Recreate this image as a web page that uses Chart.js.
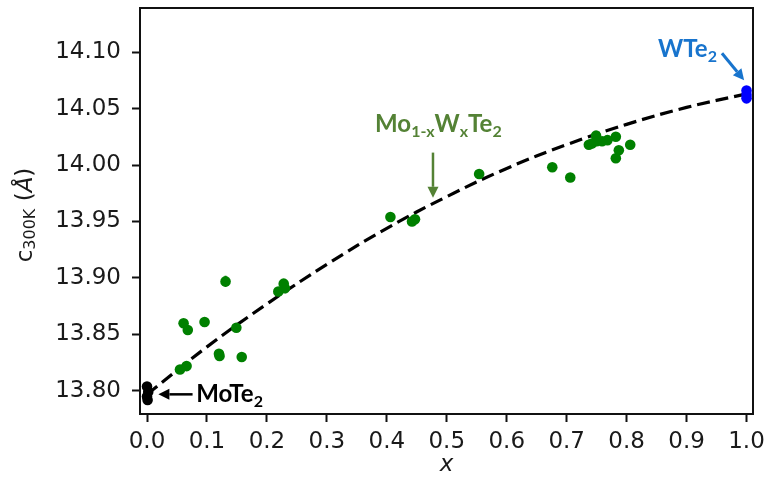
<!DOCTYPE html>
<html><head><meta charset="utf-8">
<script src="https://cdn.jsdelivr.net/npm/chart.js@4/dist/chart.umd.min.js"></script>
<style>html,body{margin:0;padding:0;background:#fff}#wrap{width:769px;height:488px}</style>
</head><body><div id="wrap"><canvas id="c" width="769" height="488"></canvas></div>
<script>
// ---- data ----
const xTicks = [0.0, 0.1, 0.2, 0.3, 0.4, 0.5, 0.6, 0.7, 0.8, 0.9, 1.0];
const yTicks = [13.80, 13.85, 13.90, 13.95, 14.00, 14.05, 14.10];

// Mo(1-x)W(x)Te2 alloys (green)
const mixX = [0.055, 0.066, 0.061, 0.068, 0.096, 0.120, 0.121, 0.131, 0.149, 0.158,
              0.219, 0.228, 0.230, 0.406, 0.442, 0.447, 0.554, 0.676, 0.706,
              0.737, 0.742, 0.749, 0.750, 0.759, 0.768, 0.782, 0.787, 0.782, 0.806];
const mixY = [13.819, 13.822, 13.860, 13.854, 13.861, 13.833, 13.831, 13.897, 13.856, 13.830,
              13.888, 13.895, 13.891, 13.954, 13.950, 13.952, 13.992, 13.998, 13.989,
              14.018, 14.019, 14.026, 14.021, 14.021, 14.022, 14.025, 14.013, 14.006, 14.018];
// MoTe2 (black)
const moX = [0.0, 0.002, 0.0, 0.001];
const moY = [13.804, 13.799, 13.795, 13.792];
// WTe2 (blue)
const wX = [1.0, 1.0, 1.0];
const wY = [14.066, 14.062, 14.059];
// dashed fit curve
const fitX = [0.0, 0.1, 0.2, 0.3, 0.4, 0.5, 0.6, 0.7, 0.8, 0.9, 1.0];
const fitY = [13.797, 13.839, 13.877, 13.912, 13.944, 13.972, 13.997, 14.018, 14.036, 14.051, 14.063];
// error bars
const errX = [0.131, 0.782];
const errY = [13.897, 14.006];
const errSize = [0.005, 0.004];

const pts = (xs, ys) => xs.map((x, i) => ({x: x, y: ys[i]}));

const TXT = '#1a1a1a';
const GREEN_TXT = '#548235';
const BLUE_TXT = '#1874CD';

function drawRich(ctx, parts, x, y, align) {
  let w = 0;
  parts.forEach(p => { ctx.font = p.font; p.w = ctx.measureText(p.t).width; w += p.w; });
  let cx = align === 'center' ? x - w / 2 : x;
  ctx.textAlign = 'left';
  ctx.textBaseline = 'alphabetic';
  parts.forEach(p => {
    ctx.font = p.font; ctx.fillStyle = p.color;
    ctx.fillText(p.t, cx, y + (p.dy || 0));
    cx += p.w;
  });
}
function arrow(ctx, x1, y1, x2, y2, color, lw, hl, hw) {
  const a = Math.atan2(y2 - y1, x2 - x1);
  const bx = x2 - hl * Math.cos(a), by = y2 - hl * Math.sin(a);
  ctx.save();
  ctx.strokeStyle = color; ctx.fillStyle = color; ctx.lineWidth = lw;
  ctx.beginPath(); ctx.moveTo(x1, y1); ctx.lineTo(bx, by); ctx.stroke();
  ctx.beginPath();
  ctx.moveTo(x2, y2);
  ctx.lineTo(bx + hw / 2 * Math.sin(a), by - hw / 2 * Math.cos(a));
  ctx.lineTo(bx - hw / 2 * Math.sin(a), by + hw / 2 * Math.cos(a));
  ctx.closePath(); ctx.fill();
  ctx.restore();
}

const deco = {
  id: 'deco',
  beforeDatasetsDraw(chart) {
    const {ctx, scales: {x, y}} = chart;
    ctx.save();
    ctx.strokeStyle = '#008000'; ctx.lineWidth = 2;
    errX.forEach((ex, i) => {
      const px = x.getPixelForValue(ex);
      ctx.beginPath();
      ctx.moveTo(px, y.getPixelForValue(errY[i] - errSize[i]));
      ctx.lineTo(px, y.getPixelForValue(errY[i] + errSize[i]));
      ctx.stroke();
    });
    ctx.restore();
  },
  afterDraw(chart) {
    const {ctx, chartArea: a, scales: {x, y}} = chart;
    ctx.save();
    // frame
    ctx.strokeStyle = '#111'; ctx.lineWidth = 2;
    ctx.strokeRect(a.left, a.top, a.right - a.left, a.bottom - a.top);

    const B = 'bold 24px Lato';
    const Bs = 'bold 16px Lato';
    // MoTe2
    arrow(ctx, x.getPixelForValue(0.076), y.getPixelForValue(13.797),
          x.getPixelForValue(0.019), y.getPixelForValue(13.797), '#000', 2.5, 11, 11);
    drawRich(ctx, [{t: 'MoTe', font: B, color: '#000'}, {t: '2', font: Bs, color: '#000', dy: 5}],
             x.getPixelForValue(0.082), y.getPixelForValue(13.790), 'left');
    // Mo1-xWxTe2
    drawRich(ctx, [
      {t: 'Mo', font: B, color: GREEN_TXT}, {t: '1-x', font: Bs, color: GREEN_TXT, dy: 5},
      {t: 'W', font: B, color: GREEN_TXT}, {t: 'x', font: Bs, color: GREEN_TXT, dy: 5},
      {t: 'Te', font: B, color: GREEN_TXT}, {t: '2', font: Bs, color: GREEN_TXT, dy: 5}
    ], x.getPixelForValue(0.486), y.getPixelForValue(14.029), 'center');
    arrow(ctx, x.getPixelForValue(0.477), y.getPixelForValue(14.011),
          x.getPixelForValue(0.477), y.getPixelForValue(13.971), GREEN_TXT, 2.5, 11, 11);
    // WTe2
    drawRich(ctx, [{t: 'WTe', font: B, color: BLUE_TXT}, {t: '2', font: Bs, color: BLUE_TXT, dy: 5}],
             x.getPixelForValue(0.8525), y.getPixelForValue(14.096), 'left');
    arrow(ctx, x.getPixelForValue(0.959), y.getPixelForValue(14.099),
          x.getPixelForValue(0.996), y.getPixelForValue(14.075), BLUE_TXT, 3, 11, 11);

    // x axis title
    ctx.fillStyle = TXT;
    ctx.font = 'italic 23px "DejaVu Sans"';
    ctx.textAlign = 'center'; ctx.textBaseline = 'alphabetic';
    ctx.fillText('x', (a.left + a.right) / 2, 471);

    // y axis title
    ctx.translate(32, (a.top + a.bottom) / 2 + 4);
    ctx.rotate(-Math.PI / 2);
    drawRich(ctx, [
      {t: 'c', font: '23px "DejaVu Sans"', color: TXT},
      {t: '300K', font: '16px "DejaVu Sans"', color: TXT, dy: 3},
      {t: ' (', font: '23px "DejaVu Sans"', color: TXT},
      {t: 'Å', font: 'italic 23px "DejaVu Sans"', color: TXT},
      {t: ')', font: '23px "DejaVu Sans"', color: TXT}
    ], 0, 0, 'center');
    ctx.restore();
  }
};

const tickFont = {family: 'DejaVu Sans', size: 23};

new Chart(document.getElementById('c'), {
  type: 'scatter',
  data: {
    datasets: [
      {label: 'MoTe2', data: pts(moX, moY), backgroundColor: '#000', borderColor: '#000', pointRadius: 5.3, borderWidth: 0},
      {label: 'WTe2', data: pts(wX, wY), backgroundColor: '#0000ff', borderColor: '#0000ff', pointRadius: 5.3, borderWidth: 0},
      {label: 'Mo1-xWxTe2', data: pts(mixX, mixY), backgroundColor: '#008000', borderColor: '#008000', pointRadius: 5.3, borderWidth: 0},
      {label: 'fit', data: pts(fitX, fitY), type: 'line', showLine: true, borderColor: '#000', borderWidth: 3.2,
       borderDash: [13, 6], pointRadius: 0, tension: 0.4, fill: false}
    ]
  },
  options: {
    responsive: false, animation: false,
    layout: {padding: {left: 0, right: 16, top: 8, bottom: 0}},
    plugins: {legend: {display: false}, tooltip: {enabled: false}},
    scales: {
      x: {
        type: 'linear', min: -0.0117, max: 1.0108,
        afterBuildTicks: s => { s.ticks = xTicks.map(v => ({value: v})); },
        afterFit: s => { s.height = 74; s.paddingLeft = 0; s.paddingRight = 0; },
        ticks: {font: tickFont, color: TXT, padding: 6, maxRotation: 0, autoSkip: false,
                callback: v => v.toFixed(1)},
        grid: {display: true, drawOnChartArea: false, drawTicks: true, tickLength: 8, tickWidth: 2, tickColor: '#111'},
        border: {display: false}
      },
      y: {
        type: 'linear', min: 13.7796, max: 14.139,
        afterBuildTicks: s => { s.ticks = yTicks.map(v => ({value: v})); },
        afterFit: s => { s.width = 140; s.paddingTop = 0; s.paddingBottom = 0; },
        ticks: {font: tickFont, color: TXT, padding: 11, autoSkip: false,
                callback: v => v.toFixed(2)},
        grid: {display: true, drawOnChartArea: false, drawTicks: true, tickLength: 8, tickWidth: 2, tickColor: '#111'},
        border: {display: false}
      }
    }
  },
  plugins: [deco]
});
</script></body></html>
